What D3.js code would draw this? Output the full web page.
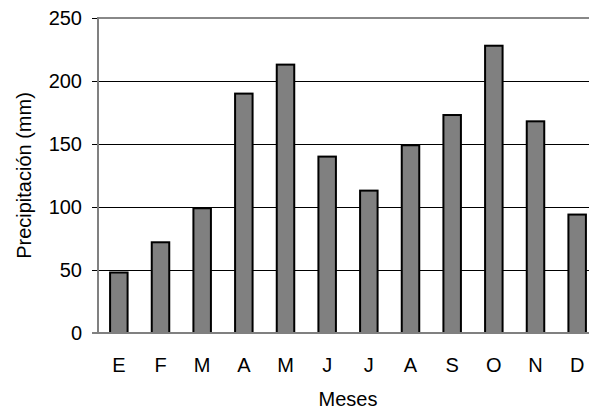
<!DOCTYPE html>
<html>
<head>
<meta charset="utf-8">
<script src="https://cdn.jsdelivr.net/npm/d3@7"></script>
<style>
  html, body { margin: 0; padding: 0; background: #fff; }
  svg { display: block; font-family: "Liberation Sans", Arial, sans-serif; }
</style>
</head>
<body>
<div id="chart"></div>
<script>
// Monthly precipitation values (mm)
const months = ['E', 'F', 'M', 'A', 'M', 'J', 'J', 'A', 'S', 'O', 'N', 'D'];
const precip = [48, 72, 99, 190, 213, 140, 113, 149, 173, 228, 168, 94];
const yTicks = [0, 50, 100, 150, 200, 250];

const width = 589,
    height = 414,
    fontSize = 20;

// plot area runs off the right edge like in the original
const margin = {top: 18, left: 98, bottom: 81},
    plotRight = 598;

const svg = d3.select('#chart').append('svg')
  .attr('width', width)
  .attr('height', height);

const x = d3.scaleBand()
  .domain(d3.range(months.length))
  .range([margin.left, plotRight])
  .paddingInner(0.58)
  .paddingOuter(0.29);

const y = d3.scaleLinear()
  .domain([0, 250])
  .range([height - margin.bottom, margin.top]);

// gridlines
svg.append('g')
  .selectAll('line')
  .data(yTicks.filter(d => d > 0 && d < 250))
  .join('line')
    .attr('x1', margin.left)
    .attr('x2', plotRight)
    .attr('y1', d => Math.round(y(d)) + 0.5)
    .attr('y2', d => Math.round(y(d)) + 0.5)
    .attr('stroke', '#000')
    .attr('stroke-width', 1);

// top border
svg.append('line')
  .attr('x1', margin.left)
  .attr('x2', plotRight)
  .attr('y1', y(250))
  .attr('y2', y(250))
  .attr('stroke', '#888')
  .attr('stroke-width', 2);

// bars
svg.append('g')
  .selectAll('rect')
  .data(precip)
  .join('rect')
    .attr('x', (d, i) => x(i))
    .attr('y', d => y(d))
    .attr('width', x.bandwidth())
    .attr('height', d => y(0) - y(d))
    .attr('fill', '#808080')
    .attr('stroke', '#000')
    .attr('stroke-width', 2);

// y axis
const yAxis = svg.append('g')
  .attr('transform', `translate(${margin.left},0)`)
  .call(d3.axisLeft(y).tickValues(yTicks).tickSize(6).tickPadding(10));
yAxis.select('.domain').remove();
yAxis.selectAll('.tick line').attr('stroke', '#000');
yAxis.selectAll('.tick text')
  .attr('font-size', fontSize)
  .attr('fill', '#000')
  .attr('font-family', '"Liberation Sans", Arial, sans-serif');

// axis lines (gray)
svg.append('line')
  .attr('x1', margin.left)
  .attr('x2', margin.left)
  .attr('y1', y(250) - 1)
  .attr('y2', y(0) + 1)
  .attr('stroke', '#808080')
  .attr('stroke-width', 2);

svg.append('line')
  .attr('x1', margin.left - 6)
  .attr('x2', plotRight)
  .attr('y1', y(0))
  .attr('y2', y(0))
  .attr('stroke', '#808080')
  .attr('stroke-width', 2);

// x labels
const xAxis = svg.append('g')
  .attr('transform', `translate(0,${y(0)})`)
  .call(d3.axisBottom(x).tickFormat(i => months[i]).tickSize(0).tickPadding(25));
xAxis.select('.domain').remove();
xAxis.selectAll('.tick text')
  .attr('font-size', fontSize)
  .attr('fill', '#000')
  .attr('font-family', '"Liberation Sans", Arial, sans-serif');

// axis titles
svg.append('text')
  .attr('x', (margin.left + plotRight) / 2)
  .attr('y', 406)
  .attr('text-anchor', 'middle')
  .attr('font-size', fontSize)
  .text('Meses');

svg.append('text')
  .attr('transform', `translate(31,${y(125)}) rotate(-90)`)
  .attr('text-anchor', 'middle')
  .attr('font-size', fontSize)
  .text('Precipitación (mm)');
</script>
</body>
</html>
